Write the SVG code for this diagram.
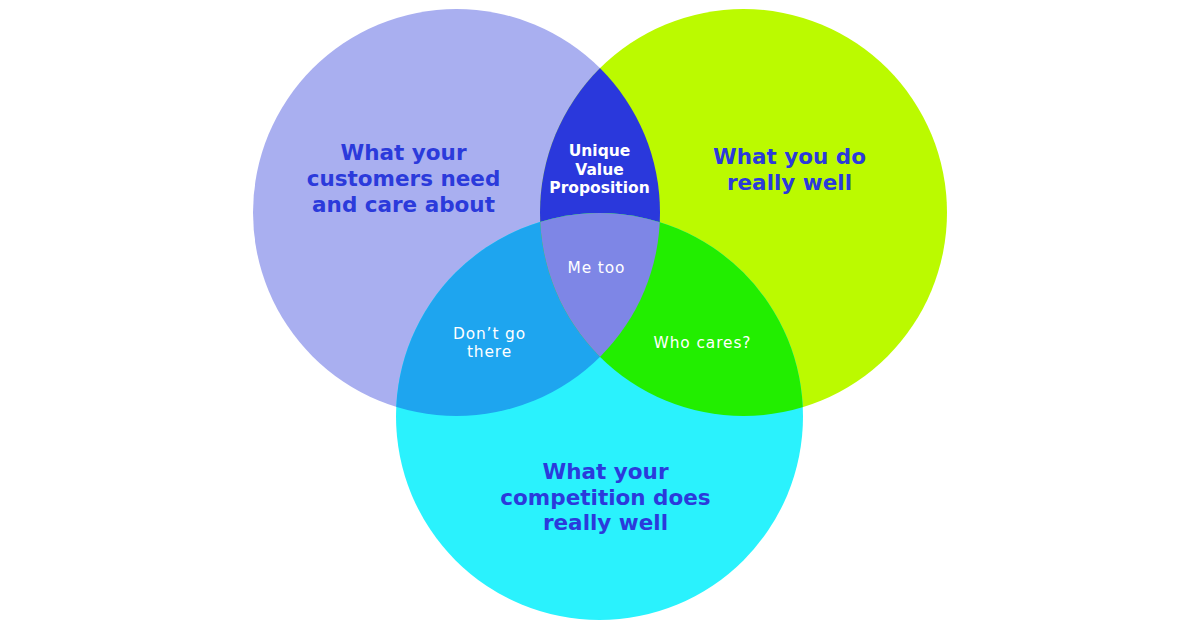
<svg xmlns="http://www.w3.org/2000/svg" width="1200" height="630" viewBox="0 0 1200 630">
<style>
.big{font-family:"DejaVu Sans","Liberation Sans",sans-serif;font-weight:700;font-size:21.5px;fill:#2b3adb;text-anchor:middle}
.uvp{font-family:"DejaVu Sans","Liberation Sans",sans-serif;font-weight:700;font-size:15.5px;fill:#ffffff;text-anchor:middle}
.sm{font-family:"DejaVu Sans","Liberation Sans",sans-serif;font-weight:400;font-size:15.4px;letter-spacing:0.9px;fill:#ffffff;text-anchor:middle}
</style>
<defs>
<clipPath id="cL"><circle cx="456.5" cy="212.5" r="203.5"/></clipPath>
<clipPath id="cR"><circle cx="743.5" cy="212.5" r="203.5"/></clipPath>
</defs>
<rect width="1200" height="630" fill="#ffffff"/>
<g id="circle-customers"><circle cx="456.5" cy="212.5" r="203.5" fill="#a9aff0"/></g>
<g id="circle-you"><circle cx="743.5" cy="212.5" r="203.5" fill="#bbfa00"/></g>
<g id="circle-competition"><circle cx="599.5" cy="416.5" r="203.5" fill="#2af2fd"/></g>
<g id="overlap-uvp" clip-path="url(#cL)"><circle cx="743.5" cy="212.5" r="203.5" fill="#2a38dc"/></g>
<g id="overlap-dontgo" clip-path="url(#cL)"><circle cx="599.5" cy="416.5" r="203.5" fill="#1ea5ef"/></g>
<g id="overlap-whocares" clip-path="url(#cR)"><circle cx="599.5" cy="416.5" r="203.5" fill="#22ee00"/></g>
<g id="overlap-metoo" clip-path="url(#cL)"><g clip-path="url(#cR)"><circle cx="599.5" cy="416.5" r="203.5" fill="#7e86e6"/></g></g>
<g id="connectors"></g>
<g id="labels">
<text class="big" x="403.5" y="160">What your</text>
<text class="big" x="403.5" y="186">customers need</text>
<text class="big" x="403.5" y="211.5">and care about</text>
<text class="big" x="789.5" y="164">What you do</text>
<text class="big" x="789.5" y="189.5">really well</text>
<text class="big" x="605.5" y="479">What your</text>
<text class="big" x="605.5" y="504.5">competition does</text>
<text class="big" x="605.5" y="530">really well</text>
<text class="uvp" x="599.5" y="156">Unique</text>
<text class="uvp" x="599.5" y="174.5">Value</text>
<text class="uvp" x="599.5" y="193">Proposition</text>
<text class="sm" x="596.5" y="273">Me too</text>
<text class="sm" x="702.5" y="348">Who cares?</text>
<text class="sm" x="489.5" y="339">Don’t go</text>
<text class="sm" x="489.5" y="357">there</text>
</g>
</svg>
